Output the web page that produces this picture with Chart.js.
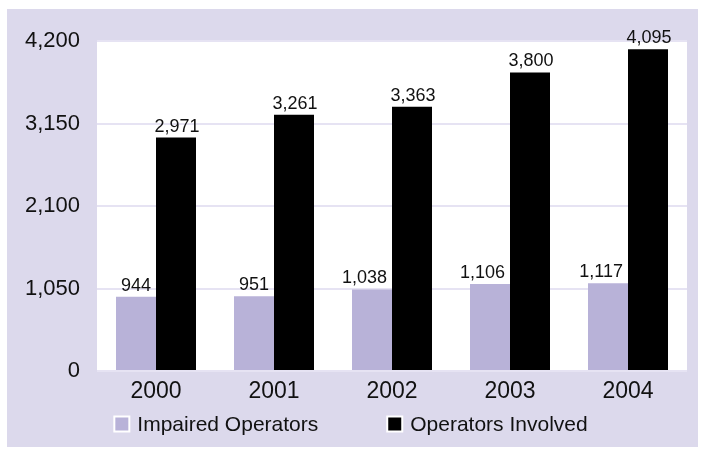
<!DOCTYPE html>
<html>
<head>
<meta charset="utf-8">
<script src="https://cdn.jsdelivr.net/npm/chart.js@4.4.1/dist/chart.umd.min.js"></script>
<style>
  html, body { margin: 0; padding: 0; background: #fff; }
  #wrap { position: relative; width: 701px; height: 449px; }
</style>
</head>
<body>
<div id="wrap"><canvas id="chart" width="701" height="449"></canvas></div>
<script>
const years = ['2000', '2001', '2002', '2003', '2004'];
const impaired = [944, 951, 1038, 1106, 1117];
const involved = [2971, 3261, 3363, 3800, 4095];
const yTicks = [0, 1050, 2100, 3150, 4200];
const seriesNames = ['Impaired Operators', 'Operators Involved'];

const LAVENDER_BG = '#dcd9ec';
const LAVENDER_BAR = '#b8b2d8';
const FONT = '"Liberation Sans", Arial, Helvetica, sans-serif';

const fmt = v => v.toLocaleString('en-US');

// backdrop: lavender panel + white plot area
const bgPlugin = {
  id: 'bg',
  beforeDraw(chart) {
    const { ctx, chartArea: a } = chart;
    ctx.save();
    ctx.fillStyle = LAVENDER_BG;
    ctx.fillRect(7, 9, 691, 438);
    ctx.fillStyle = '#fff';
    ctx.fillRect(a.left, a.top, a.right - a.left, a.bottom - a.top);
    ctx.restore();
  }
};

// value labels above bars (lavender ones kept clear of the black bar)
const labelPlugin = {
  id: 'valLabels',
  afterDatasetsDraw(chart) {
    const ctx = chart.ctx;
    ctx.save();
    ctx.font = '18px ' + FONT;
    ctx.fillStyle = '#111';
    ctx.textAlign = 'center';
    ctx.textBaseline = 'alphabetic';
    chart.data.datasets.forEach((ds, i) => {
      chart.getDatasetMeta(i).data.forEach((bar, j) => {
        const txt = fmt(ds.data[j]);
        const w = ctx.measureText(txt).width;
        let x = bar.x + 1;
        if (i === 0) x = Math.min(bar.x, bar.x + bar.width / 2 - 5 - w / 2);
        ctx.fillText(txt, x, bar.y - 6);
      });
    });
    ctx.restore();
  }
};

// legend drawn under the x axis
const legendPlugin = {
  id: 'bottomLegend',
  afterDraw(chart) {
    const ctx = chart.ctx;
    ctx.save();
    ctx.font = '21px ' + FONT;
    const box = 17, gapText = 7, gapItem = 68;
    const widths = chart.data.datasets.map(ds => box + gapText + ctx.measureText(ds.label).width);
    const total = widths[0] + gapItem + widths[1];
    let x = (chart.width - total) / 2;
    const yc = 424;
    chart.data.datasets.forEach((ds, i) => {
      ctx.fillStyle = '#fff';
      ctx.fillRect(x, yc - box / 2, box, box);
      ctx.fillStyle = ds.backgroundColor;
      ctx.fillRect(x + 2, yc - box / 2 + 2, box - 4, box - 4);
      ctx.fillStyle = '#111';
      ctx.textBaseline = 'middle';
      ctx.textAlign = 'left';
      ctx.fillText(ds.label, x + box + gapText, yc + 1);
      x += widths[i] + gapItem;
    });
    ctx.restore();
  }
};

new Chart(document.getElementById('chart'), {
  type: 'bar',
  data: {
    labels: years,
    datasets: [
      { label: seriesNames[0], data: impaired, backgroundColor: LAVENDER_BAR },
      { label: seriesNames[1], data: involved, backgroundColor: '#000000' }
    ]
  },
  options: {
    responsive: false,
    animation: false,
    layout: { padding: { left: 0, right: 14, top: 41, bottom: 48 } },
    datasets: { bar: { barPercentage: 1.0, categoryPercentage: 0.678 } },
    scales: {
      x: {
        grid: { display: false, drawTicks: false },
        border: { display: false },
        ticks: { color: '#111', font: { family: FONT, size: 23 }, padding: 7 },
        afterFit: s => { s.height = 30; }
      },
      y: {
        min: 0,
        max: 4200,
        afterBuildTicks: s => { s.ticks = yTicks.map(v => ({ value: v })); },
        grid: { color: '#e6e3f3', lineWidth: 2, drawTicks: false },
        border: { display: false },
        ticks: { color: '#111', font: { family: FONT, size: 22 }, padding: 17, callback: v => fmt(v) },
        afterFit: s => { s.width = 97; }
      }
    },
    plugins: {
      legend: { display: false },
      tooltip: { enabled: false }
    }
  },
  plugins: [bgPlugin, labelPlugin, legendPlugin]
});
</script>
</body>
</html>
